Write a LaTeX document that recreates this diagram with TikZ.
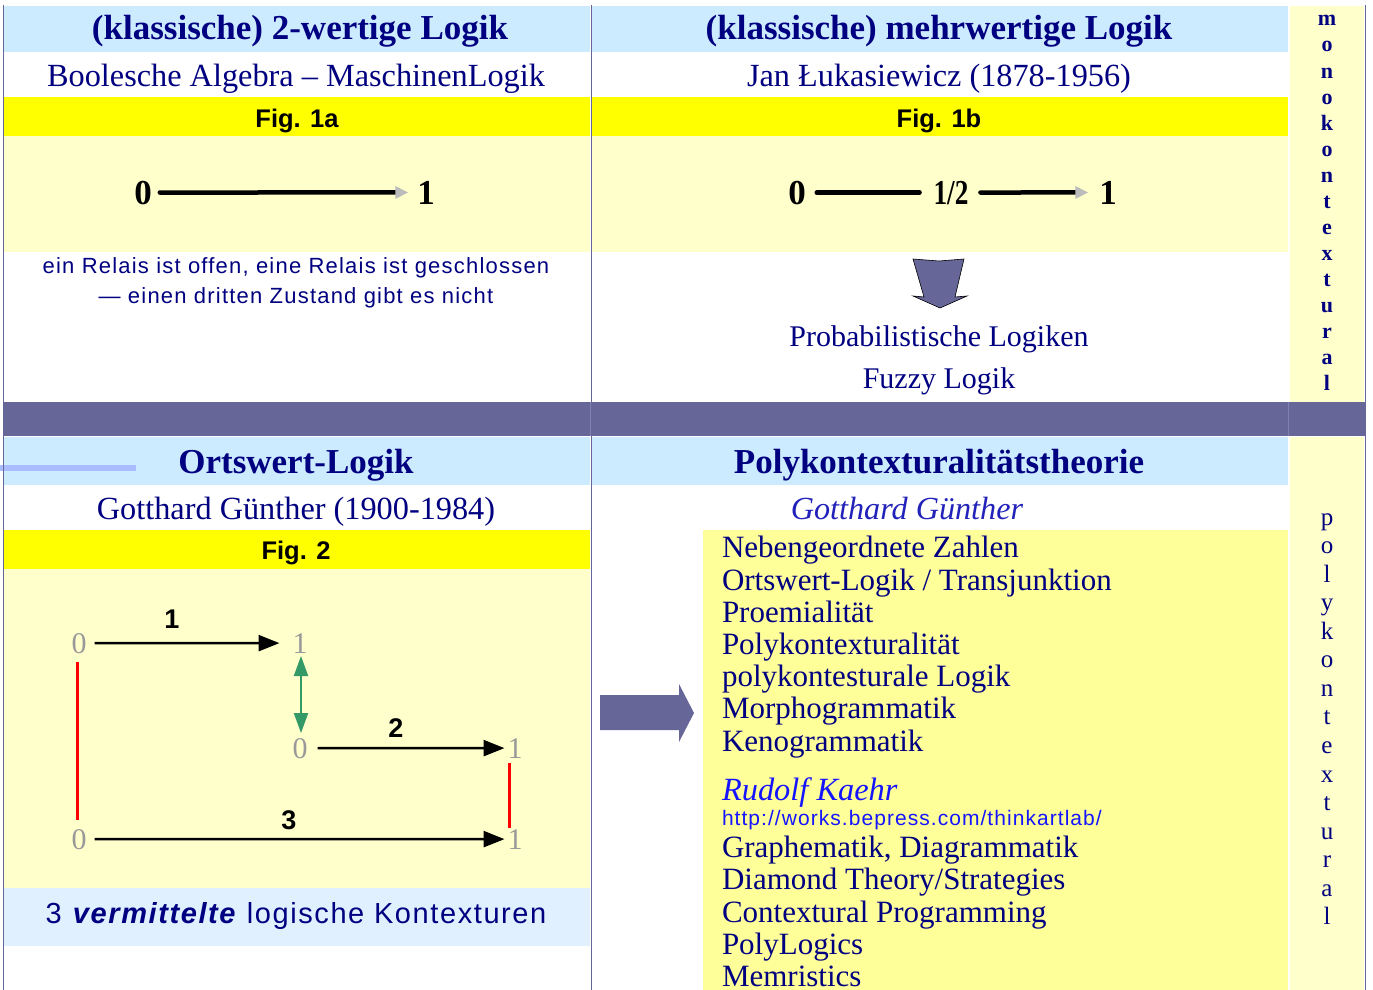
\documentclass[tikz,border=0pt]{standalone}
\usepackage{fontspec}
\setmainfont{Liberation Serif}
\setsansfont{Liberation Sans}
\usetikzlibrary{arrows.meta}

\definecolor{navy}{HTML}{000080}
\definecolor{hdrblue}{HTML}{CCEBFF}
\definecolor{band}{HTML}{666699}
\definecolor{bandline}{HTML}{8080B0}
\definecolor{paleyel}{HTML}{FFFFCC}
\definecolor{figyel}{HTML}{FFFF00}
\definecolor{listyel}{HTML}{FFFF99}
\definecolor{capblue}{HTML}{E0F0FF}
\definecolor{digitgray}{HTML}{999999}
\definecolor{linkgreen}{HTML}{339966}
\definecolor{tipgray}{HTML}{BBBBBB}
\definecolor{itblue}{HTML}{2222BB}
\definecolor{brightblue}{HTML}{1414FF}
\definecolor{stripblue}{HTML}{A8BCFF}

\tikzset{
  every node/.style={inner sep=0pt, outer sep=0pt, anchor=base},
  headline/.style={font=\fontsize{35}{40}\selectfont\bfseries, text=navy},
  subline/.style={font=\fontsize{32.3}{36}\selectfont, text=navy},
  figlabel/.style={font=\sffamily\bfseries\fontsize{25.5}{28}\selectfont, text=black},
  bigdigit/.style={font=\fontsize{35}{40}\selectfont\bfseries, text=black},
  note/.style={font=\sffamily\fontsize{22}{26}\selectfont\addfontfeature{LetterSpace=5.5}, text=navy},
  listitem/.style={font=\fontsize{31}{34}\selectfont, text=navy, anchor=base west},
  grey digit/.style={font=\fontsize{30}{34}\selectfont, text=digitgray},
  ctxlabel/.style={font=\sffamily\bfseries\fontsize{27}{30}\selectfont, text=black},
  boldletter/.style={font=\fontsize{22}{24}\selectfont\bfseries, text=navy},
  plainletter/.style={font=\fontsize{25}{28}\selectfont, text=navy},
  valueline/.style={line width=4.5pt, line cap=round, black},
  valuearrow/.style={valueline, -{Triangle[length=13pt,width=12pt,color=tipgray]}},
  ctxarrow/.style={line width=2.6pt, black, -{Triangle[length=21pt,width=16pt]}},
  redlink/.style={line width=3pt, red},
  greenlink/.style={line width=2pt, linkgreen, {Triangle[length=20pt,width=14pt]}-{Triangle[length=20pt,width=14pt]}},
  frameline/.style={band, line width=1pt},
  blockarrow/.style={fill=band, draw=black, line width=0.6pt},
}

\begin{document}
\begin{tikzpicture}[x=1pt,y=-1pt]
\useasboundingbox (0,0) rectangle (1373,990);
\fill[white] (0,0) rectangle (1373,990);

% ---- background bands, upper half
\fill[hdrblue] (4,6) rectangle (590,52);
\fill[hdrblue] (592,6) rectangle (1288,52);
\fill[figyel] (4,97) rectangle (590,136);
\fill[figyel] (592,97) rectangle (1288,136);
\fill[paleyel] (4,136) rectangle (590,252);
\fill[paleyel] (592,136) rectangle (1288,252);
\fill[paleyel] (1290,6) rectangle (1364,402);

% ---- separating band
\fill[band] (4,402) rectangle (1366,436);
\draw[bandline, line width=1pt] (590,402) -- (590,436) (1288,402) -- (1288,436);

% ---- background bands, lower half
\fill[hdrblue] (4,437) rectangle (590,485);
\fill[hdrblue] (592,437) rectangle (1288,485);
\fill[figyel] (4,530) rectangle (590,569);
\fill[paleyel] (4,569) rectangle (590,888);
\fill[capblue] (4,888) rectangle (590,946);
\fill[listyel] (703,530) rectangle (1288,990);
\fill[paleyel] (1290,437) rectangle (1364,990);
\fill[stripblue] (0,465) rectangle (136,471);

% ---- frame lines
\draw[frameline] (3,5) -- (3,990);
\draw[frameline] (591,5) -- (591,990);
\draw[frameline] (1365,5) -- (1365,990);

% ==== upper left: two-valued logic
\node[headline] (t1) at (300,40) {(klassische) 2-wertige Logik};
\node[subline] (s1) at (296,86) {Boolesche Algebra – MaschinenLogik};
\node[figlabel] (f1a) at (297,127) {Fig. 1a};
\node[bigdigit] (a0) at (143,204) {0};
\node[bigdigit] (a1) at (426,204) {1};
\draw[valuearrow, shorten <=8pt, shorten >=9pt] (a0.east) -- (a1.west);
\node[note] (r1) at (296,273) {ein Relais ist offen, eine Relais ist geschlossen};
\node[note] (r2) at (296,303) {— einen dritten Zustand gibt es nicht};

% ==== upper right: many-valued logic
\node[headline] (t2) at (939,40) {(klassische) mehrwertige Logik};
\node[subline] (s2) at (939,86) {Jan Łukasiewicz (1878-1956)};
\node[figlabel] (f1b) at (939,127) {Fig. 1b};
\node[bigdigit] (b0) at (797,204) {0};
\node[bigdigit] (bh) at (951,204) {\scalebox{0.78}[1]{1/2}};
\node[bigdigit] (b1) at (1108,204) {1};
\draw[valueline, shorten <=11pt, shorten >=14pt] (b0.east) -- (bh.west |- b0.east);
\draw[valuearrow, shorten <=12pt, shorten >=11pt] (bh.east |- b0.east) -- (b1.west);
\draw[blockarrow] (913,259) -- (939,261) -- (964,259) -- (955,297) -- (967,296)
  -- (940,308) -- (913,296) -- (924,297) -- cycle;
\node[subline, font=\fontsize{30}{34}\selectfont] (p1) at (939,346) {Probabilistische Logiken};
\node[subline, font=\fontsize{30}{34}\selectfont] (p2) at (939,388) {Fuzzy Logik};

% ---- side column: monokontextural
\foreach \ch [count=\i from 0] in {m,o,n,o,k,o,n,t,e,x,t,u,r,a,l}
  \node[boldletter] (mono\i) at (1327,{26+26*\i}) {\ch};

% ==== lower left: place-value logic
\node[headline] (t3) at (296,473) {Ortswert-Logik};
\node[subline] (s3) at (296,519) {Gotthard Günther (1900-1984)};
\node[figlabel] (f2) at (296,559) {Fig. 2};

\node[grey digit] (d10) at (79,653) {0};
\node[grey digit] (d11) at (300,653) {1};
\node[grey digit] (d20) at (300,758) {0};
\node[grey digit] (d21) at (515,758) {1};
\node[grey digit] (d30) at (79,849) {0};
\node[grey digit] (d31) at (515,849) {1};
\node[ctxlabel] (c1) at (172,628) {1};
\node[ctxlabel] (c2) at (396,737) {2};
\node[ctxlabel] (c3) at (289,829) {3};

\draw[ctxarrow, shorten <=8pt, shorten >=13pt] (d10.east) -- (d11.west);
\draw[ctxarrow, shorten <=10pt, shorten >=3pt] (d20.east) -- (d21.west);
\draw[ctxarrow, shorten <=8pt, shorten >=3pt] (d30.east) -- (d31.west);
\draw[redlink, shorten <=9pt, shorten >=9pt] ([xshift=-2pt]d10.south) -- ([xshift=-2pt]d30.north);
\draw[redlink, shorten <=5pt, shorten >=1pt] ([xshift=-6pt]d21.south) -- ([xshift=-6pt]d31.north);
\draw[greenlink, shorten <=3pt, shorten >=5pt] ([xshift=1pt]d11.south) -- ([xshift=1pt]d20.north);

\node[note, font=\sffamily\fontsize{29}{32}\selectfont\addfontfeature{LetterSpace=5.5}] (k3) at (296,923)
  {3 \textbf{\textit{vermittelte}} logische Kontexturen};

% ==== lower right: polycontexturality theory
\node[headline] (t4) at (939,473) {Polykontexturalitätstheorie};
\node[subline, text=itblue, font=\fontsize{32.2}{36}\selectfont\itshape] (gg) at (907,519) {Gotthard Günther};

\draw[blockarrow, draw=none] (600,695) -- (679,695) -- (679,684) -- (694,713)
  -- (679,742) -- (679,730) -- (600,730) -- cycle;

\node[listitem] (l1) at (722,557) {Nebengeordnete Zahlen};
\node[listitem] (l2) at (722,590) {Ortswert-Logik / Transjunktion};
\node[listitem] (l3) at (722,622) {Proemialität};
\node[listitem] (l4) at (722,654) {Polykontexturalität};
\node[listitem] (l5) at (722,686) {polykontesturale Logik};
\node[listitem] (l6) at (722,718) {Morphogrammatik};
\node[listitem] (l7) at (722,751) {Kenogrammatik};
\node[listitem, text=brightblue, font=\fontsize{32.4}{34}\selectfont\itshape] (rk) at (722,800) {Rudolf Kaehr};
\node[listitem, text=brightblue, font=\sffamily\fontsize{21}{24}\selectfont\addfontfeature{LetterSpace=5}] (url) at (722,825) {http://works.bepress.com/thinkartlab/};
\node[listitem] (l8) at (722,857) {Graphematik, Diagrammatik};
\node[listitem] (l9) at (722,889) {Diamond Theory/Strategies};
\node[listitem] (l10) at (722,922) {Contextural Programming};
\node[listitem] (l11) at (722,954) {PolyLogics};
\node[listitem] (l12) at (722,986) {Memristics};

% ---- side column: polykontextural
\foreach \ch [count=\i from 0] in {p,o,l,y,k,o,n,t,e,x,t,u,r,a,l}
  \node[plainletter] (poly\i) at (1327,{525+28.57*\i}) {\ch};

\end{tikzpicture}
\end{document}
